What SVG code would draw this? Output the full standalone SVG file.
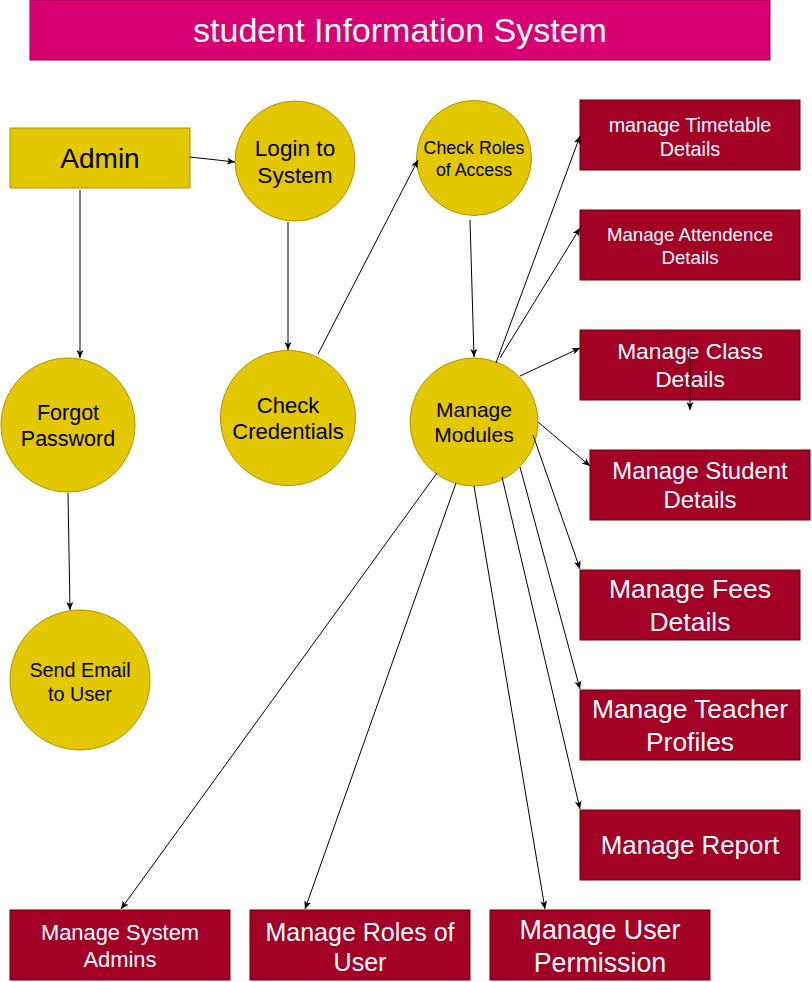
<svg xmlns="http://www.w3.org/2000/svg" width="812" height="982" viewBox="0 0 812 982">
<style>
text{font-family:"Liberation Sans",Arial,Helvetica,sans-serif;text-anchor:middle}
.y{fill:#e3c800;stroke:#b09500;stroke-width:1}
.r{fill:#a20025;stroke:#6f0000;stroke-width:1}
.yt{fill:#000}
.rt{fill:#fff}
.e{fill:none;stroke:#000;stroke-width:1;marker-end:url(#a)}
</style>
<defs>
<marker id="a" markerWidth="10" markerHeight="10" refX="8" refY="4" orient="auto" markerUnits="userSpaceOnUse">
<path d="M0,0.5 L8,4 L0,7.5 L2,4 z" fill="#000"/>
</marker>
</defs>
<rect width="812" height="982" fill="#fff"/>
<g id="title">
<rect x="30" y="0" width="740" height="60" fill="#d80073" stroke="#a50040"/>
<text x="400" y="42" font-size="34" class="rt">student Information System</text>
</g>
<g id="admin">
<rect class="y" x="10" y="128" width="180" height="60"/>
<text class="yt" x="100" y="168" font-size="28">Admin</text>
</g>
<g id="login">
<circle class="y" cx="295" cy="161" r="60"/>
<text class="yt" font-size="22.6"><tspan x="295" y="156">Login to</tspan><tspan x="295" y="183">System</tspan></text>
</g>
<g id="checkroles">
<circle class="y" cx="474" cy="158" r="57.5"/>
<text class="yt" font-size="17.8"><tspan x="474" y="154">Check Roles</tspan><tspan x="474" y="176">of Access</tspan></text>
</g>
<g id="forgot">
<circle class="y" cx="68" cy="425" r="67"/>
<text class="yt" font-size="21.5"><tspan x="68" y="420">Forgot</tspan><tspan x="68" y="446">Password</tspan></text>
</g>
<g id="checkcred">
<circle class="y" cx="288" cy="418" r="67.5"/>
<text class="yt" font-size="22"><tspan x="288" y="413">Check</tspan><tspan x="288" y="439">Credentials</tspan></text>
</g>
<g id="modules">
<circle class="y" cx="474" cy="422" r="64"/>
<text class="yt" font-size="21"><tspan x="474" y="417">Manage</tspan><tspan x="474" y="442">Modules</tspan></text>
</g>
<g id="sendemail">
<circle class="y" cx="80" cy="680" r="70"/>
<text class="yt" font-size="19.8"><tspan x="80" y="677">Send Email</tspan><tspan x="80" y="701">to User</tspan></text>
</g>
<g id="timetable">
<rect class="r" x="580" y="100" width="220" height="70"/>
<text class="rt" font-size="19.8"><tspan x="690" y="132">manage Timetable</tspan><tspan x="690" y="156">Details</tspan></text>
</g>
<g id="attendence">
<rect class="r" x="580" y="210" width="220" height="70"/>
<text class="rt" font-size="18.7"><tspan x="690" y="241">Manage Attendence</tspan><tspan x="690" y="264">Details</tspan></text>
</g>
<g id="class">
<rect class="r" x="580" y="330" width="220" height="70"/>
<text class="rt" font-size="22.8"><tspan x="690" y="359">Manage Class</tspan><tspan x="690" y="387">Details</tspan></text>
</g>
<g id="student">
<rect class="r" x="590" y="450" width="220" height="70"/>
<text class="rt" font-size="23.9"><tspan x="700" y="479">Manage Student</tspan><tspan x="700" y="508">Details</tspan></text>
</g>
<g id="fees">
<rect class="r" x="580" y="570" width="220" height="70"/>
<text class="rt" font-size="26.5"><tspan x="690" y="598">Manage Fees</tspan><tspan x="690" y="631">Details</tspan></text>
</g>
<g id="teacher">
<rect class="r" x="580" y="690" width="220" height="70"/>
<text class="rt" font-size="26.4"><tspan x="690" y="718">Manage Teacher</tspan><tspan x="690" y="751">Profiles</tspan></text>
</g>
<g id="report">
<rect class="r" x="580" y="810" width="220" height="70"/>
<text class="rt" x="690" y="854" font-size="25.9">Manage Report</text>
</g>
<g id="sysadmins">
<rect class="r" x="10" y="910" width="220" height="70"/>
<text class="rt" font-size="21.9"><tspan x="120" y="940">Manage System</tspan><tspan x="120" y="967">Admins</tspan></text>
</g>
<g id="roles">
<rect class="r" x="250" y="910" width="220" height="70"/>
<text class="rt" font-size="25"><tspan x="360" y="941">Manage Roles of</tspan><tspan x="360" y="971">User</tspan></text>
</g>
<g id="permission">
<rect class="r" x="490" y="910" width="220" height="70"/>
<text class="rt" font-size="26.8"><tspan x="600" y="939">Manage User</tspan><tspan x="600" y="972">Permission</tspan></text>
</g>
<g id="connectors">
<path class="e" d="M190,157 L235,162"/>
<path class="e" d="M80,190 L80,358"/>
<path class="e" d="M288,222 L288,350"/>
<path class="e" d="M318,354 L418,160"/>
<path class="e" d="M470,220 L474,357"/>
<path class="e" d="M68,493 L70,610"/>
<path class="e" d="M496,363 L580,136"/>
<path class="e" d="M500,358 L580,228"/>
<path class="e" d="M520,376 L580,348"/>
<path class="e" d="M690,340 L690,410"/>
<path class="e" d="M538,422 L590,466"/>
<path class="e" d="M533,435 L580,569"/>
<path class="e" d="M520,467 L580,689"/>
<path class="e" d="M502,477 L580,809"/>
<path class="e" d="M474,486 L545,909"/>
<path class="e" d="M456,483 L305,909"/>
<path class="e" d="M437,473 L121,909"/>
</g>
</svg>
